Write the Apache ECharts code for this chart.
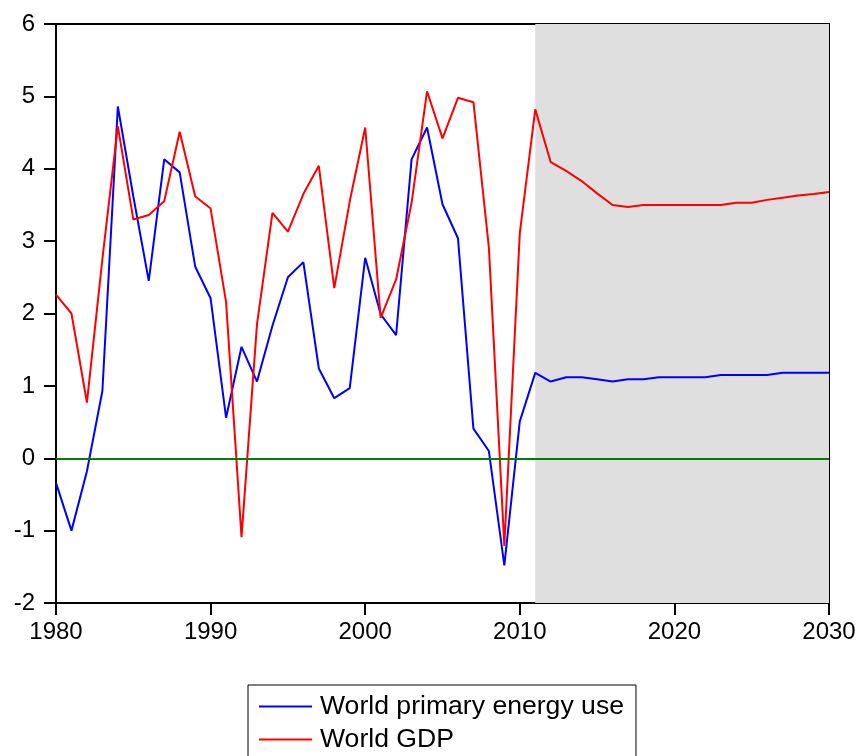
<!DOCTYPE html>
<html>
<head>
<meta charset="utf-8">
<script src="https://cdn.jsdelivr.net/npm/echarts@6/dist/echarts.min.js"></script>
<style>
  html, body { margin: 0; padding: 0; background: #ffffff; }
  #chart { width: 862px; height: 756px; }
</style>
</head>
<body>
<div id="chart"></div>
<script>
// Annual growth rates (%), 1980-2030; values from 2011 on are projections.
const years = [];
for (let y = 1980; y <= 2030; y++) years.push(y);

const energyUse = [
  -0.34, -1.00, -0.18, 0.93, 4.86, 3.62, 2.45, 4.13, 3.95, 2.65,
  2.21, 0.56, 1.54, 1.06, 1.83, 2.50, 2.71, 1.24, 0.83, 0.97,
  2.77, 1.99, 1.70, 4.13, 4.57, 3.51, 3.04, 0.41, 0.10, -1.48,
  0.51, 1.18, 1.06, 1.12, 1.12, 1.09, 1.06, 1.09, 1.09, 1.12,
  1.12, 1.12, 1.12, 1.15, 1.15, 1.15, 1.15, 1.18, 1.18, 1.18,
  1.18
];

const worldGdp = [
  2.26, 2.00, 0.77, 2.75, 4.59, 3.30, 3.36, 3.55, 4.51, 3.62,
  3.45, 2.16, -1.09, 1.85, 3.39, 3.13, 3.65, 4.04, 2.35, 3.55,
  4.57, 1.94, 2.47, 3.53, 5.07, 4.42, 4.98, 4.92, 2.91, -1.21,
  3.11, 4.82, 4.09, 3.97, 3.83, 3.66, 3.50, 3.47, 3.50, 3.50,
  3.50, 3.50, 3.50, 3.50, 3.53, 3.53, 3.57, 3.60, 3.63, 3.65,
  3.68
];

const seriesNames = ['World primary energy use', 'World GDP'];
const forecastStart = 2011;
const forecastEnd = 2030;

const FONT = '"Liberation Sans", Arial, sans-serif';
const pairs = arr => arr.map((v, i) => [years[i], v]);

const chart = echarts.init(document.getElementById('chart'), null, { renderer: 'canvas' });

chart.setOption({
  animation: false,
  backgroundColor: '#ffffff',
  grid: {
    left: 56, top: 24, width: 773, height: 579,
    show: true, borderColor: '#000000', borderWidth: 2,
    backgroundColor: 'transparent'
  },
  xAxis: {
    type: 'value', min: 1980, max: 2030, interval: 10,
    axisLine: { show: true, onZero: false, lineStyle: { color: '#000', width: 2 } },
    axisTick: { show: true, length: 12, lineStyle: { color: '#000', width: 2 } },
    axisLabel: {
      color: '#000', fontSize: 24, fontFamily: FONT, margin: 17,
      formatter: v => String(v)
    },
    splitLine: { show: false }
  },
  yAxis: {
    type: 'value', min: -2, max: 6, interval: 1,
    axisLine: { show: true, lineStyle: { color: '#000', width: 2 } },
    axisTick: { show: true, length: 12, lineStyle: { color: '#000', width: 2 } },
    axisLabel: { color: '#000', fontSize: 24, fontFamily: FONT, margin: 21 },
    splitLine: { show: false }
  },
  legend: {
    data: seriesNames,
    orient: 'vertical',
    left: 248, top: 685,
    height: 200,
    padding: [5, 12, 12, 11],
    borderColor: '#000', borderWidth: 1,
    itemGap: 0,
    itemWidth: 53, itemHeight: 2,
    icon: 'rect',
    textStyle: {
      color: '#000', fontSize: 26.6, fontFamily: FONT, lineHeight: 33,
      padding: [0, 0, 0, 3]
    }
  },
  series: [
    {
      // forecast shading and zero reference line
      type: 'line',
      data: [],
      silent: true,
      z: 1,
      markArea: {
        silent: true,
        itemStyle: { color: '#dfdfdf' },
        data: [[{ xAxis: forecastStart }, { xAxis: forecastEnd }]]
      },
      markLine: {
        silent: true,
        symbol: ['none', 'none'],
        label: { show: false },
        lineStyle: { color: '#008000', width: 2, type: 'solid' },
        data: [{ yAxis: 0 }]
      }
    },
    {
      name: seriesNames[0],
      type: 'line',
      data: pairs(energyUse),
      showSymbol: false,
      z: 3,
      itemStyle: { color: '#0000ff' },
      lineStyle: { color: '#0000ff', width: 2 }
    },
    {
      name: seriesNames[1],
      type: 'line',
      data: pairs(worldGdp),
      showSymbol: false,
      z: 4,
      itemStyle: { color: '#ff0000' },
      lineStyle: { color: '#ff0000', width: 2 }
    }
  ]
});
</script>
</body>
</html>
